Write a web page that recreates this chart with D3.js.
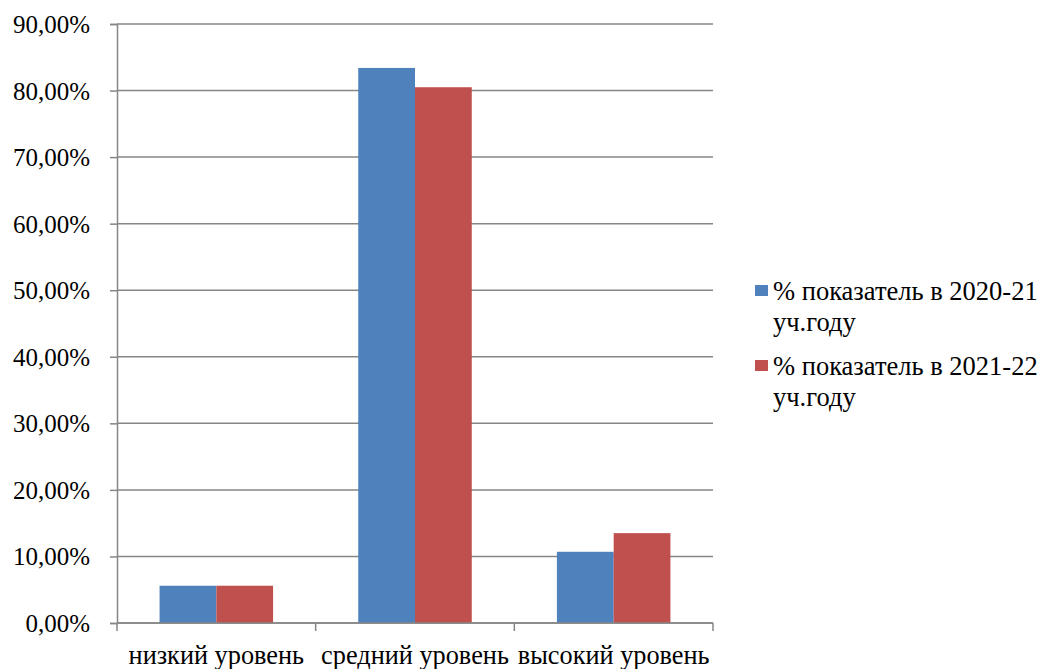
<!DOCTYPE html>
<html><head><meta charset="utf-8">
<script src="https://cdn.jsdelivr.net/npm/d3@7"></script>
<style>body{margin:0;background:#fff;} svg{display:block;} svg text{font-family:"Liberation Serif","Times New Roman",serif;}</style>
</head><body>
<svg id="c" width="1045" height="669"></svg>
<script>
const categories = ["низкий уровень", "средний уровень", "высокий уровень"];
const series2021 = [5.6, 83.4, 10.7];
const series2122 = [5.6, 80.5, 13.5];
const legendLines = [["% показатель в 2020-21", "уч.году"], ["% показатель в 2021-22", "уч.году"]];
const colors = ["#4F81BD", "#C0504D"];
const yTicks = [0,10,20,30,40,50,60,70,80,90];

const svg = d3.select("#c");
const m = {l:117, r:713, t:24, b:623};
const x = d3.scaleBand().domain(categories).range([m.l, m.r]).paddingInner(0).paddingOuter(0);
const y = d3.scaleLinear().domain([0,90]).range([m.b, m.t]);
const fmt = v => d3.format(".2f")(v).replace(".", ",") + "%";

// gridlines
svg.append("g").selectAll("line").data(yTicks).join("line")
  .attr("x1", m.l).attr("x2", m.r).attr("y1", d=>y(d)).attr("y2", d=>y(d))
  .attr("stroke", "#868686").attr("stroke-width", 1.5);

// y axis
const ya = svg.append("g").attr("transform", `translate(${m.l},0)`)
  .call(d3.axisLeft(y).tickValues(yTicks).tickFormat(fmt).tickSize(7).tickPadding(20));
ya.attr("font-family", null);
ya.select(".domain").attr("stroke", "#868686").attr("stroke-width", 1.5);
ya.selectAll(".tick line").attr("stroke", "#868686").attr("stroke-width", 1.5);
ya.selectAll("text").attr("font-size", 25).attr("fill", "#000").attr("dy", "0.34em");

// bars
const inner = d3.scaleBand().domain([0,1]).range([0, x.bandwidth()]).paddingInner(0).paddingOuter(0.75);
const data = categories.map((c,i)=>({c, vals:[series2021[i], series2122[i]]}));
const gb = svg.append("g");
data.forEach(d => {
  d.vals.forEach((v,k) => {
    gb.append("rect")
      .attr("x", x(d.c) + inner(k)).attr("width", inner.bandwidth())
      .attr("y", y(v)).attr("height", y(0)-y(v))
      .attr("fill", colors[k]);
  });
});

// x axis
svg.append("line").attr("x1", m.l).attr("x2", m.r).attr("y1", y(0)).attr("y2", y(0))
  .attr("stroke", "#868686").attr("stroke-width", 1.5);
const bounds = categories.map(c=>x(c)).concat([m.r]);
svg.append("g").selectAll("line").data(bounds).join("line")
  .attr("x1", d=>d).attr("x2", d=>d).attr("y1", y(0)).attr("y2", y(0)+8)
  .attr("stroke", "#868686").attr("stroke-width", 1.5);
svg.append("g").selectAll("text").data(categories).join("text")
  .attr("x", d=>x(d)+x.bandwidth()/2).attr("y", 664)
  .attr("text-anchor", "middle").attr("font-size", 26.3).attr("fill", "#000")
  .text(d=>d);

// legend
const lg = svg.append("g");
legendLines.forEach((lines,i) => {
  const top = 285 + i*75;
  lg.append("rect").attr("x", 755).attr("y", top).attr("width", 13).attr("height", 11).attr("fill", colors[i]);
  lines.forEach((t,j) => {
    lg.append("text").attr("x", 773).attr("y", top + 15 + j*30.5)
      .attr("font-size", 26.5).attr("fill", "#000").text(t);
  });
});
</script>
</body></html>
